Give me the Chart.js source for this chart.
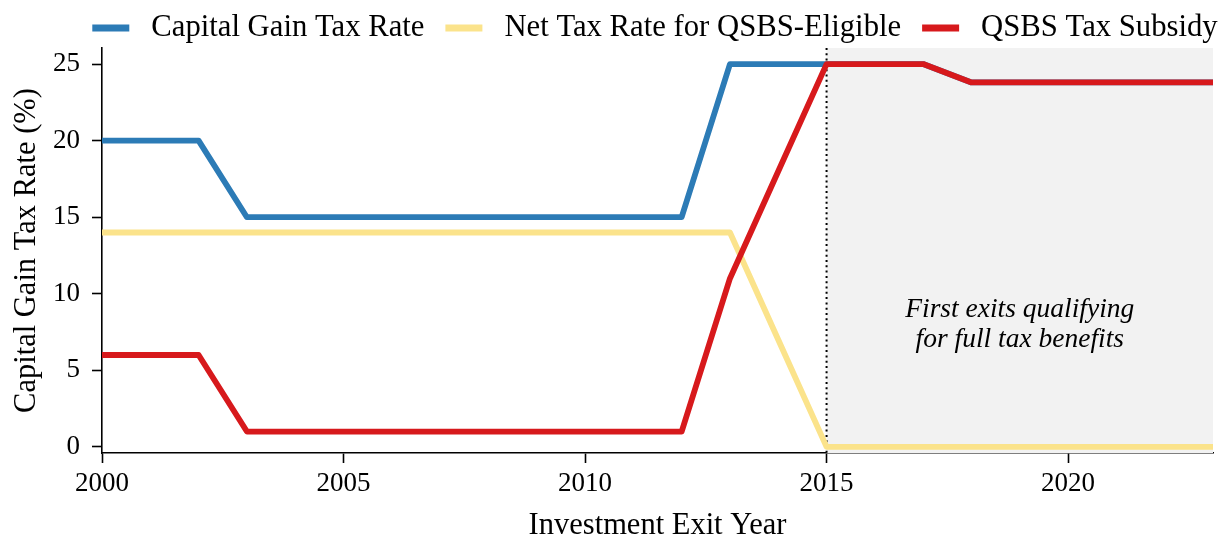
<!DOCTYPE html>
<html>
<head>
<meta charset="utf-8">
<script src="https://cdn.jsdelivr.net/npm/chart.js@4/dist/chart.umd.min.js"></script>
<style>
  body { margin: 0; background: #fff; }
  #wrap { width: 1221px; height: 537px; }
</style>
</head>
<body>
<div id="wrap"><canvas id="qsbs-chart"></canvas></div>
<script>
const years = [2000, 2001, 2002, 2003, 2004, 2005, 2006, 2007, 2008, 2009, 2010, 2011,
               2012, 2013, 2014, 2015, 2016, 2017, 2018, 2019, 2020, 2021, 2022, 2023];
const capitalGainRate = [20, 20, 20, 15, 15, 15, 15, 15, 15, 15, 15, 15,
                         15, 25, 25, 25, 25, 25, 23.8, 23.8, 23.8, 23.8, 23.8, 23.8];
const netQsbsRate = [14, 14, 14, 14, 14, 14, 14, 14, 14, 14, 14, 14,
                     14, 14, 7, 0, 0, 0, 0, 0, 0, 0, 0, 0];
const qsbsSubsidy = [6, 6, 6, 1, 1, 1, 1, 1, 1, 1, 1, 1,
                     1, 11, 18, 25, 25, 25, 23.8, 23.8, 23.8, 23.8, 23.8, 23.8];
const xTicks = [2000, 2005, 2010, 2015, 2020];
const yTicks = [0, 5, 10, 15, 20, 25];
const fullBenefitStart = 2015;
const noteLines = ['First exits qualifying', 'for full tax benefits'];

const fontFamily = '"Liberation Serif", "Times New Roman", serif';
Chart.defaults.font.family = fontFamily;
Chart.defaults.color = '#000';

function toPoints(values) {
    return years.map((year, i) => ({ x: year, y: values[i] }));
}

// grey span + dotted line + note
const shadePlugin = {
    id: 'shadePlugin',
    beforeDatasetsDraw(chart) {
        const { ctx, chartArea, scales } = chart;
        const x0 = scales.x.getPixelForValue(fullBenefitStart);
        ctx.save();
        ctx.fillStyle = '#f2f2f2';
        ctx.fillRect(x0, chartArea.top, chartArea.right - x0, chartArea.bottom - chartArea.top);
        ctx.strokeStyle = '#000';
        ctx.lineWidth = 2;
        ctx.setLineDash([2, 3.3]);
        ctx.beginPath();
        ctx.moveTo(x0, chartArea.top);
        ctx.lineTo(x0, chartArea.bottom);
        ctx.stroke();
        ctx.setLineDash([]);
        ctx.font = 'italic 27.5px ' + fontFamily;
        ctx.fillStyle = '#000';
        ctx.textAlign = 'center';
        ctx.textBaseline = 'middle';
        const tx = scales.x.getPixelForValue(2019);
        const ty = scales.y.getPixelForValue(8);
        ctx.fillText(noteLines[0], tx, ty - 15);
        ctx.fillText(noteLines[1], tx, ty + 15);
        ctx.restore();
    }
};

const legendPlugin = {
    id: 'topLegend',
    afterDraw(chart) {
        const ctx = chart.ctx;
        const sets = chart.data.datasets;
        const boxW = 37, gapText = 22, gapItem = 21, y = 28;
        ctx.save();
        ctx.font = '30.7px ' + fontFamily;
        ctx.textBaseline = 'middle';
        ctx.textAlign = 'left';
        const widths = sets.map(d => boxW + gapText + ctx.measureText(d.label).width);
        const total = widths.reduce((a, b) => a + b, 0) + gapItem * (sets.length - 1);
        let x = 655 - total / 2;
        sets.forEach((d, i) => {
            ctx.fillStyle = d.borderColor;
            ctx.fillRect(x, y - 3.5, boxW, 7);
            ctx.fillStyle = '#000';
            ctx.fillText(d.label, x + boxW + gapText, y);
            x += widths[i] + gapItem;
        });
        ctx.restore();
    }
};

const axisGrid = {
    drawOnChartArea: false,
    drawTicks: true,
    tickLength: 10,
    tickWidth: 1.6,
    tickColor: '#000'
};

new Chart(document.getElementById('qsbs-chart'), {
    type: 'line',
    data: {
        datasets: [{
            label: 'Capital Gain Tax Rate',
            data: toPoints(capitalGainRate),
            borderColor: '#2c7bb6',
            borderWidth: 5.8,
            order: 2
        }, {
            label: 'Net Tax Rate for QSBS-Eligible',
            data: toPoints(netQsbsRate),
            borderColor: '#fbe38b',
            borderWidth: 5.8,
            order: 1
        }, {
            label: 'QSBS Tax Subsidy',
            data: toPoints(qsbsSubsidy),
            borderColor: '#d7191c',
            borderWidth: 5.8,
            order: 0
        }]
    },
    options: {
        responsive: true,
        maintainAspectRatio: false,
        animation: false,
        devicePixelRatio: 1,
        elements: {
            line: { tension: 0, borderJoinStyle: 'round', fill: false },
            point: { radius: 0, hoverRadius: 0 }
        },
        layout: { padding: { top: 48, right: 8, left: 0, bottom: 0 } },
        plugins: {
            legend: { display: false },
            tooltip: { enabled: false }
        },
        scales: {
            x: {
                type: 'linear',
                min: 2000,
                max: 2023,
                afterBuildTicks: s => { s.ticks = xTicks.map(v => ({ value: v })); },
                afterFit: s => { s.height = 84; },
                ticks: {
                    font: { size: 27 },
                    padding: 5,
                    maxRotation: 0,
                    autoSkip: false,
                    callback: v => String(v)
                },
                grid: axisGrid,
                border: { color: '#000', width: 1.6 },
                title: {
                    display: true,
                    text: 'Investment Exit Year',
                    font: { size: 30.5, lineHeight: 0.75 },
                    padding: { top: 0, bottom: 0 }
                }
            },
            y: {
                type: 'linear',
                min: -0.4,
                max: 26.05,
                afterBuildTicks: s => { s.ticks = yTicks.map(v => ({ value: v })); },
                afterFit: s => { s.width = 102; },
                ticks: {
                    font: { size: 27 },
                    padding: 12
                },
                grid: axisGrid,
                border: { color: '#000', width: 1.6 },
                title: {
                    display: true,
                    text: 'Capital Gain Tax Rate (%)',
                    font: { size: 30.5, lineHeight: 0.75 },
                    padding: { top: 16, bottom: 0 }
                }
            }
        }
    },
    plugins: [shadePlugin, legendPlugin]
});
</script>
</body>
</html>
